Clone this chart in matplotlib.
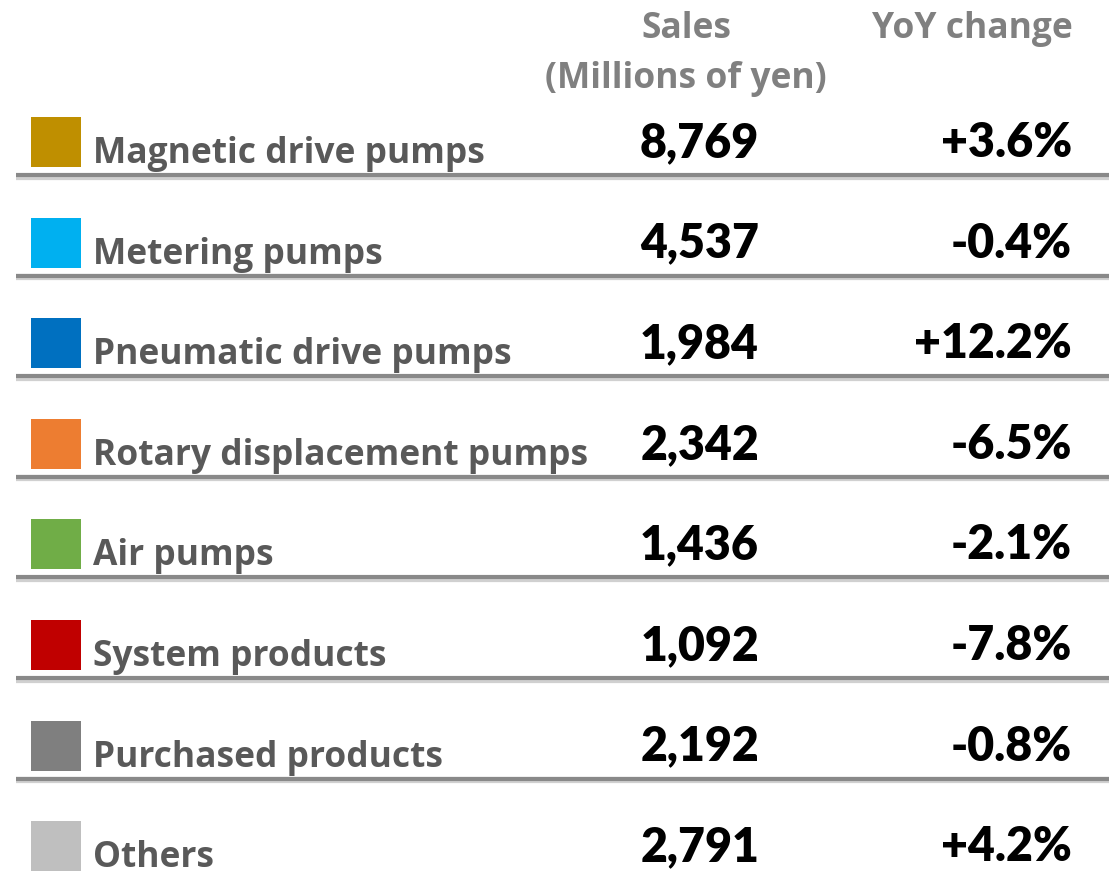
import matplotlib
matplotlib.use("Agg")
import matplotlib.pyplot as plt
from matplotlib.patches import Rectangle

categories = ["Magnetic drive pumps", "Metering pumps", "Pneumatic drive pumps",
              "Rotary displacement pumps", "Air pumps", "System products",
              "Purchased products", "Others"]
sales = [8769, 4537, 1984, 2342, 1436, 1092, 2192, 2791]
yoy = [3.6, -0.4, 12.2, -6.5, -2.1, -7.8, -0.8, 4.2]
colors = ["#BF8F00", "#00B0F0", "#0070C0", "#ED7D31", "#70AD47", "#C00000",
          "#7F7F7F", "#BFBFBF"]
header_sales = ["Sales", "(Millions of yen)"]
header_yoy = "YoY change"

W, H = 1112, 876
fig = plt.figure(figsize=(W / 100, H / 100), dpi=100)
ax = fig.add_axes([0, 0, 1, 1])
ax.set_xlim(0, W)
ax.set_ylim(H, 0)
ax.axis("off")

lab_font = "Open Sans"
num_font = "Lato"
gray_txt = "#595959"
head_col = "#808080"

# headers
ax.text(686, 38, header_sales[0], ha="center", va="baseline", fontsize=25.5,
        fontweight="bold", color=head_col, family=lab_font)
ax.text(686, 88, header_sales[1], ha="center", va="baseline", fontsize=25.5,
        fontweight="bold", color=head_col, family=lab_font)
ax.text(1073, 38, header_yoy, ha="right", va="baseline", fontsize=25.5,
        fontweight="bold", color=head_col, family=lab_font)

row0 = 117
step = 100.6
for i, (cat, s, y, c) in enumerate(zip(categories, sales, yoy, colors)):
    top = row0 + i * step
    ax.add_patch(Rectangle((31, top), 50, 50, facecolor=c, edgecolor="none"))
    ax.text(93, top + 46, cat, ha="left", va="baseline", fontsize=25.5,
            fontweight="bold", color=gray_txt, family=lab_font)
    ax.text(759, top + 40, f"{s:,}", ha="right", va="baseline", fontsize=33.5,
            fontweight="heavy", color="black", family=num_font)
    ax.text(1072, top + 40, f"{y:+.1f}%", ha="right", va="baseline", fontsize=33.5,
            fontweight="heavy", color="black", family=num_font)
    if i < len(categories) - 1:
        ly = top + 58
        ax.plot([16, 1109], [ly + 1.5, ly + 1.5], color="#D0D0D0", lw=4.5,
                solid_capstyle="butt")
        ax.plot([16, 1109], [ly, ly], color="#898989", lw=3,
                solid_capstyle="butt")

fig.savefig("out.png", dpi=100)
